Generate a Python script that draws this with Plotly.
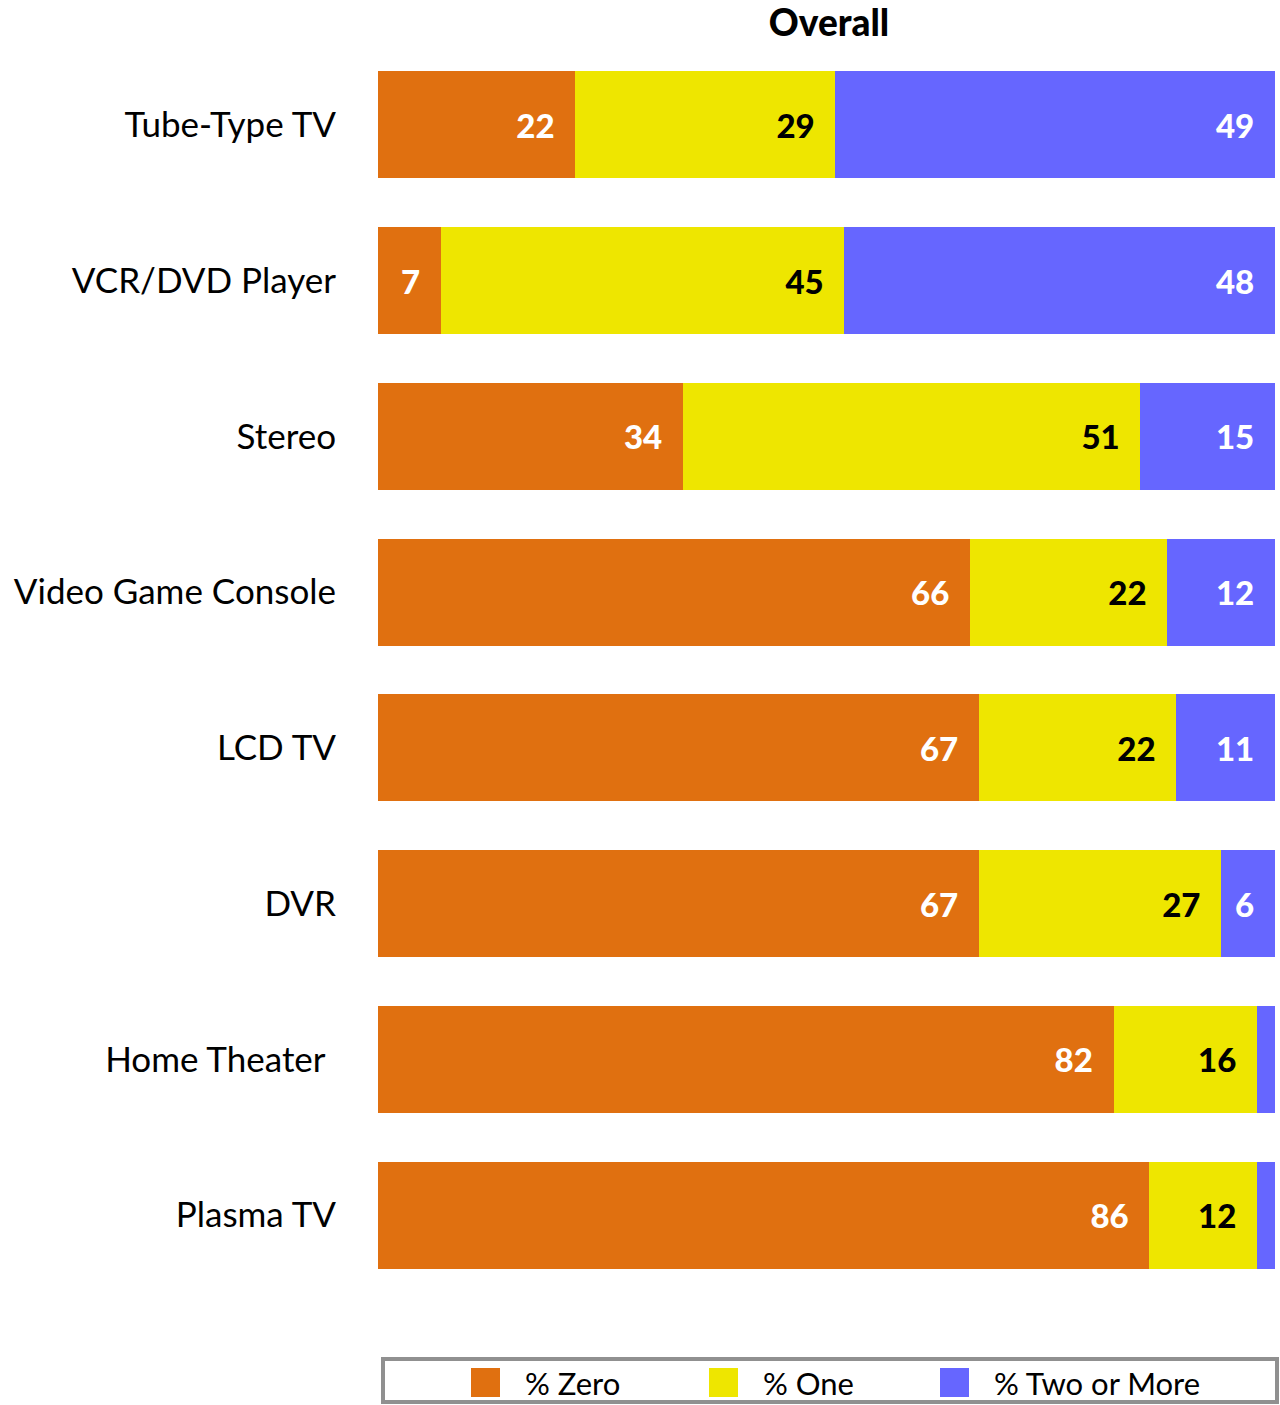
import plotly.graph_objects as go

categories = ["Tube-Type TV", "VCR/DVD Player", "Stereo", "Video Game Console",
              "LCD TV", "DVR", "Home Theater\u00a0\u200a", "Plasma TV"]
series_names = ["% Zero", "% One", "% Two or More"]
zero = [22, 7, 34, 66, 67, 67, 82, 86]
one = [29, 45, 51, 22, 22, 27, 16, 12]
two_plus = [49, 48, 15, 12, 11, 6, 2, 2]
two_plus_labels = ["49", "48", "15", "12", "11", "6", "", ""]

colors = ["#E07010", "#EEE600", "#6666FF"]
text_colors = ["white", "black", "white"]

W, H = 1280, 1405
L, T = 378, 47
R = W - 1275
B = H - 1293
pw, ph = W - L - R, H - T - B

def px(x):
    return (x - L) / pw

def py(y):
    return (H - B - y) / ph

pad = "\u00a0\u00a0\u200a"
fig = go.Figure()
series = [zero, one, two_plus]
labels = [[str(v) for v in zero], [str(v) for v in one], two_plus_labels]
for i in range(3):
    fig.add_trace(go.Bar(
        y=categories, x=series[i], orientation="h", name=series_names[i],
        marker=dict(color=colors[i], line=dict(width=0)),
        text=[t + pad if t else "" for t in labels[i]],
        textposition="inside", insidetextanchor="end",
        constraintext="none", textangle=0,
        textfont=dict(family="Lato Black, Lato", size=33, color=text_colors[i], weight=900),
        showlegend=False, hoverinfo="skip",
    ))

fig.update_layout(
    width=W, height=H, barmode="stack", bargap=0.313,
    margin=dict(l=L, r=R, t=T, b=B),
    plot_bgcolor="white", paper_bgcolor="white",
    title=dict(text="<b>Overall</b>", x=px(829), xanchor="center", xref="paper",
               y=1 - 23 / H, yanchor="middle",
               font=dict(family="Lato Black, Lato", size=37, color="black", weight=900)),
    xaxis=dict(range=[0, 100], visible=False, fixedrange=True),
    yaxis=dict(categoryorder="array", categoryarray=categories, autorange="reversed",
               showgrid=False, zeroline=False, showline=False, fixedrange=True,
               ticks="outside", ticklen=34, tickcolor="rgba(0,0,0,0)",
               tickfont=dict(family="Lato", size=35, color="black")),
)

# legend box drawn manually
fig.add_shape(type="rect", xref="paper", yref="paper",
              x0=px(383), x1=px(1277), y0=py(1402), y1=py(1359),
              line=dict(color="#909090", width=4), fillcolor="white")
sw_x = [471, 709, 940]
for i in range(3):
    fig.add_shape(type="rect", xref="paper", yref="paper",
                  x0=px(sw_x[i]), x1=px(sw_x[i] + 29), y0=py(1397), y1=py(1368),
                  line=dict(width=0), fillcolor=colors[i])
    fig.add_annotation(xref="paper", yref="paper", x=px(sw_x[i] + 52), y=py(1383),
                       xanchor="left", yanchor="middle", showarrow=False,
                       text=series_names[i],
                       font=dict(family="Lato", size=31, color="black"))

fig.write_html("out.html", config={"displayModeBar": False},
               post_script="document.body.style.margin='0';")
